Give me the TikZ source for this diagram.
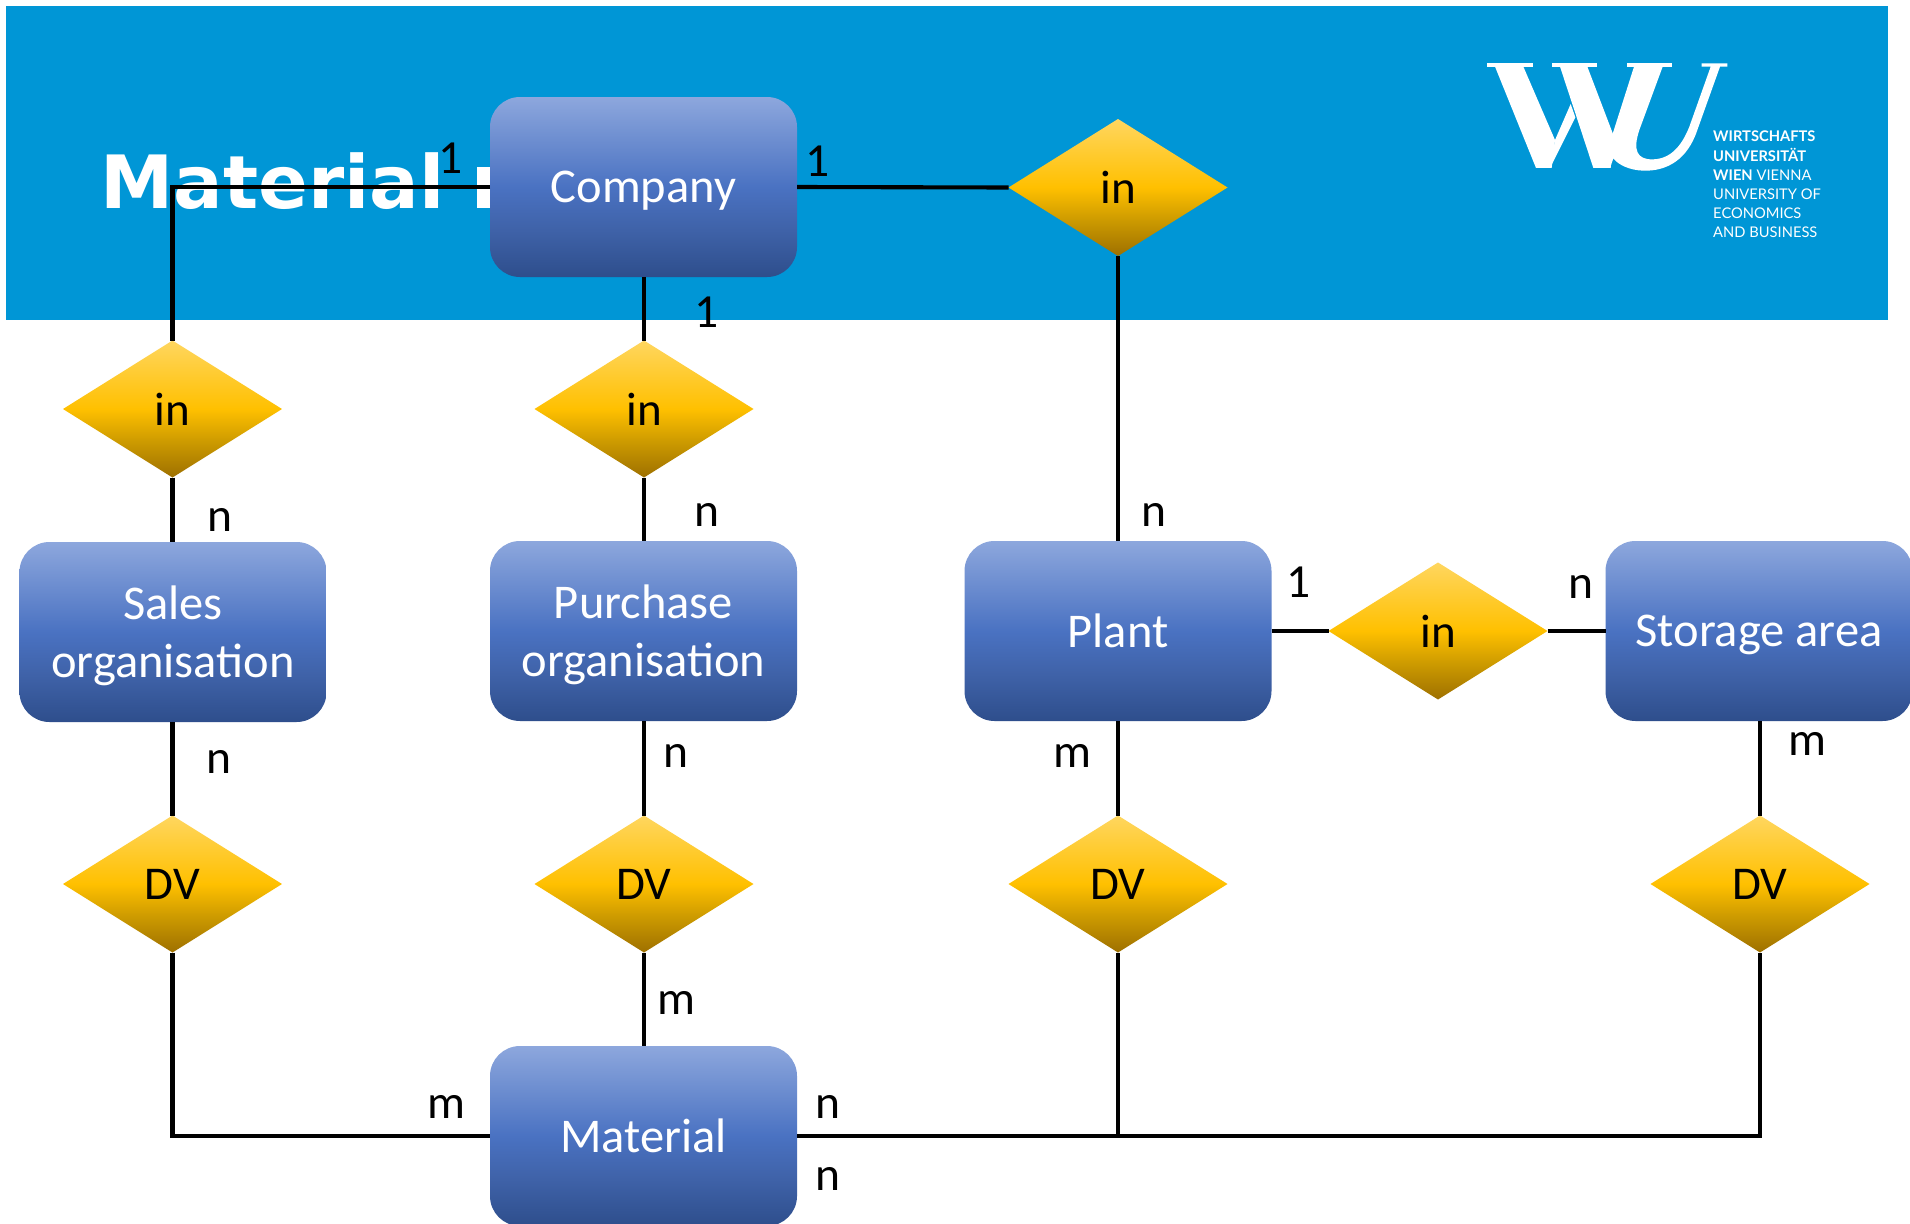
\documentclass[tikz,border=0pt]{standalone}
\usepackage{fontspec}
\setmainfont{Carlito}
\newfontfamily\titlefont{DejaVu Sans}
\newfontfamily\logofont{Lato}
\usetikzlibrary{shapes.geometric,calc}
\definecolor{bandblue}{HTML}{0096D6}
\definecolor{boxtop}{HTML}{8DA7DD}
\definecolor{boxmid}{HTML}{4A72C2}
\definecolor{boxlow}{HTML}{3F62A8}
\definecolor{boxbot}{HTML}{2E4E8C}
\definecolor{dtop}{HTML}{FFD65F}
\definecolor{dmid}{HTML}{FFC000}
\definecolor{dlow}{HTML}{CC9A00}
\definecolor{dbot}{HTML}{9E7000}
\pgfdeclareverticalshading{boxshade}{100bp}{
  color(0bp)=(boxbot);
  color(25bp)=(boxbot);
  color(38bp)=(boxlow);
  color(50bp)=(boxmid);
  color(75bp)=(boxtop);
  color(100bp)=(boxtop)}
\pgfdeclareverticalshading{diamondshade}{100bp}{
  color(0bp)=(dbot);
  color(25bp)=(dbot);
  color(38bp)=(dlow);
  color(50bp)=(dmid);
  color(75bp)=(dtop);
  color(100bp)=(dtop)}
\newcommand{\nodepth}[1]{\raisebox{0pt}[\height][0pt]{#1}}
\tikzset{
  entity/.style={shape=rectangle,rounded corners=30pt,minimum width=307pt,minimum height=180pt,
    inner sep=0pt,outer sep=0pt,shading=boxshade,text=white,align=center,font=\fontsize{48.5}{58}\selectfont},
  relation/.style={shape=diamond,shape aspect=1.61,minimum width=219pt,minimum height=137pt,
    inner sep=0pt,outer sep=0pt,shading=diamondshade,text=black,font=\fontsize{47}{56}\selectfont},
  card/.style={inner sep=0pt,text=black,font=\fontsize{47.5}{56}\selectfont,xshift=1pt,yshift=-1.5pt},
  wire/.style={draw=black,line width=4.1pt},
  logofill/.style={fill=white,draw=none}
}
\begin{document}
\begin{tikzpicture}[x=1pt,y=-1pt]
\useasboundingbox (0,0) rectangle (1910,1223);
\clip (0,0) rectangle (1910,1223);
\fill[white] (0,0) rectangle (1910,1223);
\fill[bandblue] (6,6) rectangle (1888,320);
% title
\node[anchor=base west,inner sep=0pt,text=white,font=\titlefont\bfseries\fontsize{73.5}{80}\selectfont] (title) at (100.5,208) {Material};
\fill[white] (477,167) rectangle (495,208);
% logo
\begin{scope}[x=0.33333pt,y=-0.33333pt,shift={(1440pt,-30pt)}]
\fill[logofill] (140,100) rectangle (280,110);
\fill[logofill] (335,100) rectangle (470,110);
\fill[logofill] (560,100) rectangle (695,110);
\fill[logofill] (165,110) -- (250,110) -- (345,330) -- (335,414) -- (288,414) -- cycle;
\fill[logofill] (330,414) -- (345,330) -- (392,222) -- (406,262) -- cycle;
\fill[logofill] (360,110) -- (442,110) -- (522,320) -- (512,414) -- (460,414) -- cycle;
\fill[logofill] (582,110) -- (668,110) -- (598,300) .. controls (578,360) and (590,390) .. (640,388)
  .. controls (700,386) and (730,335) .. (748,290) -- (812,110) -- (785,110) -- (785,100) -- (862,100)
  -- (862,110) -- (840,110) -- (772,300) .. controls (742,390) and (680,424) .. (610,422)
  .. controls (570,421) and (535,405) .. (520,385) -- (510,414) -- (512,330) -- cycle;
\end{scope}
\node[anchor=north west,inner sep=0pt,text=white,align=left,font=\logofont\fontsize{14.7}{19.1}\selectfont] (logotext) at (1713,131)
  {\textbf{WIRTSCHAFTS}\\\textbf{UNIVERSITÄT}\\\textbf{WIEN} VIENNA\\UNIVERSITY OF\\ECONOMICS\\AND BUSINESS};
% entities
\node[entity] (company) at (643.5,187) {\nodepth{Company}};
\node[entity] (sales) at (173,632) {Sales\\\nodepth{organisation}};
\node[entity] (purchase) at (643.5,631) {Purchase\\\nodepth{organisation}};
\node[entity] (plant) at (1118,631) {Plant};
\node[entity] (storage) at (1759,631) {\nodepth{Storage area}};
\node[entity] (material) at (643.5,1136) {Material};
% relations
\node[relation] (inA) at (172.5,409) {in};
\node[relation] (inB) at (644,409) {in};
\node[relation] (inC) at (1118,187.5) {in};
\node[relation] (inD) at (1438,631) {in};
\node[relation] (dvA) at (172.5,884) {DV};
\node[relation] (dvB) at (644,884) {DV};
\node[relation] (dvC) at (1118,884) {DV};
\node[relation] (dvD) at (1760,884) {DV};
% connectors
\draw[wire] (company.west) -| (inA.north);
\draw[wire] (inA.south) -- (inA.south |- sales.north);
\draw[wire] (sales.south -| dvA.north) -- (dvA.north);
\draw[wire] (dvA.south) |- (material.west);
\draw[wire] (company.south -| inB.north) -- (inB.north);
\draw[wire] (inB.south) -- (inB.south |- purchase.north);
\draw[wire] (purchase.south -| dvB.north) -- (dvB.north);
\draw[wire] (dvB.south) -- (dvB.south |- material.north);
\draw[wire] (company.east) -- (inC.west);
\draw[wire] (inC.south) -- (inC.south |- plant.north);
\draw[wire] (plant.east) -- (inD.west);
\draw[wire] (inD.east) -- (storage.west);
\draw[wire] (plant.south -| dvC.north) -- (dvC.north);
\draw[wire] (storage.south -| dvD.north) -- (dvD.north);
\draw[wire] (material.east) -| (dvD.south);
\coordinate (junction) at (dvC.south |- material.east);
\draw[wire] (dvC.south) -- (junction);
% cardinalities
\node[card] (c1) at (450,157) {1};
\node[card] (c2) at (817,160) {1};
\node[card] (c3) at (706,311) {1};
\node[card] (c4) at (219,518) {n};
\node[card] (c5) at (706,513) {n};
\node[card] (c6) at (1153,513) {n};
\node[card] (c7) at (1298,581) {1};
\node[card] (c8) at (1580,585) {n};
\node[card] (c9) at (218,760) {n};
\node[card] (c10) at (675,754) {n};
\node[card] (c11) at (1071,754) {m};
\node[card] (c12) at (1806,742) {m};
\node[card] (c13) at (675,1001) {m};
\node[card] (c14) at (445,1105) {m};
\node[card] (c15) at (827,1105) {n};
\node[card] (c16) at (827,1177) {n};
\end{tikzpicture}
\end{document}
